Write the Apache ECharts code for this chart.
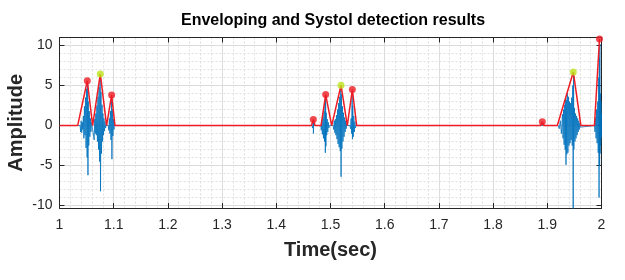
<!DOCTYPE html>
<html>
<head>
<meta charset="utf-8">
<script src="https://cdn.jsdelivr.net/npm/echarts@6/dist/echarts.min.js"></script>
<style>html,body{margin:0;padding:0;background:#fff}#c{width:625px;height:280px}</style>
</head>
<body>
<div id="c"></div>
<script>
// ---- data ----
const titleText = 'Enveloping and Systol detection results';
const xName = 'Time(sec)';
const yName = 'Amplitude';
const xTicks = [1, 1.1, 1.2, 1.3, 1.4, 1.5, 1.6, 1.7, 1.8, 1.9, 2];
const yTicks = [-10, -5, 0, 5, 10];

// blue signal (time, amplitude)
const sigT = [
  1.000, 1.038, 1.039, 1.040, 1.041, 1.042, 1.043, 1.044, 1.045, 1.046, 1.047, 1.048, 1.049, 1.050, 1.051, 1.052, 1.0525, 1.053, 1.054, 1.055, 1.056, 1.057, 1.058, 1.059, 1.060,
  1.063, 1.064, 1.065, 1.066, 1.067, 1.068, 1.069, 1.070, 1.071, 1.072, 1.073, 1.074, 1.075, 1.0757, 1.0765, 1.0775, 1.0785, 1.0795, 1.080, 1.081, 1.082, 1.083, 1.084, 1.085, 1.086,
  1.090, 1.091, 1.092, 1.093, 1.094, 1.095, 1.096, 1.0967, 1.0975, 1.0985, 1.0995, 1.1005, 1.1015, 1.102,
  1.466, 1.467, 1.468, 1.4685, 1.469, 1.470,
  1.482, 1.483, 1.484, 1.485, 1.486, 1.487, 1.488, 1.489, 1.490, 1.4905, 1.491, 1.4915, 1.492, 1.493, 1.494, 1.495, 1.496, 1.497, 1.498,
  1.505, 1.506, 1.507, 1.508, 1.509, 1.510, 1.511, 1.512, 1.513, 1.514, 1.515, 1.516, 1.517, 1.518, 1.519, 1.5195, 1.520, 1.521, 1.522, 1.523, 1.524, 1.525, 1.526, 1.527, 1.528, 1.529, 1.530, 1.531,
  1.536, 1.537, 1.538, 1.539, 1.540, 1.5405, 1.541, 1.542, 1.543, 1.544, 1.545, 1.546, 1.547,
  1.920, 1.922, 1.924, 1.926, 1.928, 1.929, 1.930, 1.931, 1.932, 1.933, 1.934, 1.9345, 1.935, 1.936, 1.937, 1.938, 1.939, 1.940, 1.941, 1.942, 1.943, 1.944, 1.945, 1.946, 1.947, 1.9478, 1.9485, 1.949, 1.950, 1.951, 1.952, 1.953, 1.954, 1.955, 1.956, 1.957, 1.958, 1.959, 1.960, 1.961, 1.962,
  1.987, 1.988, 1.989, 1.990, 1.991, 1.992, 1.993, 1.994, 1.995, 1.9955, 1.996, 1.9965, 1.997, 1.9975, 1.998, 1.9985, 1.999, 1.9995, 2.000
];
const sigV = [
  0, 0, -0.8, 0.6, -0.9, 0.4, -0.5, 1.2, -1.6, 2.4, -1.2, 3.5, -2.8, 4.6, -4.0, 5.3, -6.2, 3.0, -2.5, 1.8, -1.4, 0.9, -0.8, 0.4, 0,
  0, -1.8, 0.8, -1.0, 1.5, -1.2, 2.5, -2.0, 3.6, -3.0, 4.8, -4.5, 5.8, -8.2, 4.2, -3.5, 2.6, -2.0, 1.5, -1.2, 0.9, -0.7, 0.5, -0.3, 0,
  0, -0.6, 0.9, -1.0, 1.8, -1.8, 3.4, -4.2, 2.0, -1.3, 0.8, -0.5, 0.3, 0,
  0, -0.3, 0.5, -1.0, 0.3, 0,
  0, -0.6, 0.5, -1.1, 1.0, -1.6, 1.8, -2.0, 3.0, -3.4, 3.6, -2.6, 1.6, -1.2, 0.8, -0.8, 0.4, -0.3, 0,
  0, -0.5, 0.6, -0.9, 0.8, -1.2, 1.3, -1.7, 2.0, -2.3, 2.8, -2.7, 3.6, -3.2, 4.6, -6.4, 3.9, -2.9, 2.4, -2.0, 1.6, -1.4, 1.0, -0.8, 0.6, -0.4, 0.3, 0,
  0, -0.4, 0.9, -1.0, 4.2, -1.7, 2.5, -1.4, 1.2, -0.8, 0.5, -0.3, 0,
  0, -0.4, 0.6, -1.0, 1.4, -1.6, 2.0, -2.4, 2.6, -3.0, 3.4, -4.9, 3.2, -3.6, 4.0, -3.4, 3.6, -2.5, 3.0, -2.2, 2.8, -1.8, 3.5, -2.5, 5.0, -11.5, 6.2, -3.0, 2.2, -2.0, 1.5, -1.6, 1.2, -1.2, 0.9, -0.8, 0.6, -0.5, 0.3, -0.2, 0,
  0, -0.8, 1.0, -1.6, 2.0, -2.2, 3.0, -3.4, 6.0, -9.0, 8.5, -5.0, 10.2, -3.5, 4.0, -2.5, 3.0, -1.5, 1.5
];

// red envelope
const envT = [1.0, 1.0335, 1.0513, 1.0611, 1.0624, 1.0753, 1.0869, 1.0900, 1.0962, 1.1023,
  1.4650, 1.4683, 1.4715, 1.4825, 1.4911, 1.5022, 1.5040, 1.5194, 1.5310, 1.5329, 1.5403, 1.5483,
  1.8880, 1.8908, 1.8935, 1.9185, 1.9480, 1.9620, 1.9870, 1.9963];
const envV = [0, 0, 5.6, 0, 0, 6.45, 0, 0, 3.83, 0,
  0, 0.75, 0, 0, 3.87, 0, 0, 5.04, 0, 0, 4.5, 0,
  0, 0.46, 0, 0, 6.7, 0, 0, 10.8];

// red peak markers
const redT = [1.0513, 1.0962, 1.4683, 1.4911, 1.5403, 1.8908, 1.9963];
const redV = [5.6, 3.83, 0.75, 3.87, 4.5, 0.46, 10.8];
// green (systole) markers
const greenT = [1.0753, 1.5194, 1.9480];
const greenV = [6.45, 5.04, 6.7];

// ---- chart ----
const zip = (a, b) => a.map((v, i) => [v, b[i]]);
const FONT = "'Liberation Sans', Arial, Helvetica, sans-serif";
const AX = '#262626';
const xMin = xTicks[0], xMax = xTicks[xTicks.length - 1];
const yMin = -10.3, yMax = 11;

function xAx(pos, labels) {
  return {
    type: 'value', position: pos, min: xMin, max: xMax, interval: 0.1,
    name: labels ? xName : '', nameLocation: 'middle', nameGap: 32, nameMoveOverlap: false,
    nameTextStyle: { fontFamily: FONT, fontSize: 20, fontWeight: 'bold', color: AX },
    axisLine: { show: true, onZero: false, lineStyle: { color: AX, width: 1 } },
    axisTick: { show: true, inside: true, length: 5, lineStyle: { color: AX } },
    axisLabel: { show: labels, margin: 10, fontFamily: FONT, fontSize: 14, color: AX },
    splitLine: { show: labels, lineStyle: { color: '#dcdcdc', width: 1 } },
    minorTick: { show: false, splitNumber: 5 },
    minorSplitLine: { show: labels, lineStyle: { color: '#e0e0e0', width: 1, type: [2, 2] } }
  };
}
function yAx(pos, labels) {
  return {
    type: 'value', position: pos, min: yMin, max: yMax, minInterval: 5, maxInterval: 5, splitNumber: 4,
    name: labels ? yName : '', nameLocation: 'middle', nameGap: 33, nameMoveOverlap: false,
    nameTextStyle: { fontFamily: FONT, fontSize: 20, fontWeight: 'bold', color: AX },
    axisLine: { show: true, onZero: false, lineStyle: { color: AX, width: 1 } },
    axisTick: { show: true, inside: true, length: 5, lineStyle: { color: AX } },
    axisLabel: { show: labels, margin: 7, showMinLabel: false, showMaxLabel: false,
      fontFamily: FONT, fontSize: 14, color: AX },
    splitLine: { show: labels, lineStyle: { color: '#dcdcdc', width: 1 } },
    minorTick: { show: false, splitNumber: 5 },
    minorSplitLine: { show: labels, lineStyle: { color: '#e0e0e0', width: 1, type: [2, 2] } }
  };
}

const chart = echarts.init(document.getElementById('c'), null, { renderer: 'canvas' });
chart.setOption({
  animation: false,
  backgroundColor: '#ffffff',
  title: {
    text: titleText, left: 181, top: 13, padding: 0,
    textStyle: { fontFamily: FONT, fontSize: 16, fontWeight: 'bold', color: '#000' }
  },
  grid: { left: 59.5, right: 23.5, top: 37.5, bottom: 72, containLabel: false, outerBoundsMode: 'none' },
  xAxis: [xAx('bottom', true), xAx('top', false)],
  yAxis: [yAx('left', true), yAx('right', false)],
  series: [
    { type: 'line', data: zip(sigT, sigV), showSymbol: false, symbol: 'none', clip: true,
      lineStyle: { color: '#0072BD', width: 1, opacity: 0.8 }, z: 2 },
    { type: 'line', data: zip(envT, envV), showSymbol: false, symbol: 'none', clip: true,
      lineStyle: { color: '#ee1c24', width: 1.5 }, z: 3 },
    { type: 'scatter', data: zip(redT, redV), symbol: 'circle', symbolSize: 7, clip: false,
      itemStyle: { color: '#ee1c24' }, z: 4 },
    { type: 'scatter', data: zip(greenT, greenV), symbol: 'circle', symbolSize: 7, clip: false,
      itemStyle: { color: '#bde31a' }, z: 4 }
  ]
});
</script>
</body>
</html>
